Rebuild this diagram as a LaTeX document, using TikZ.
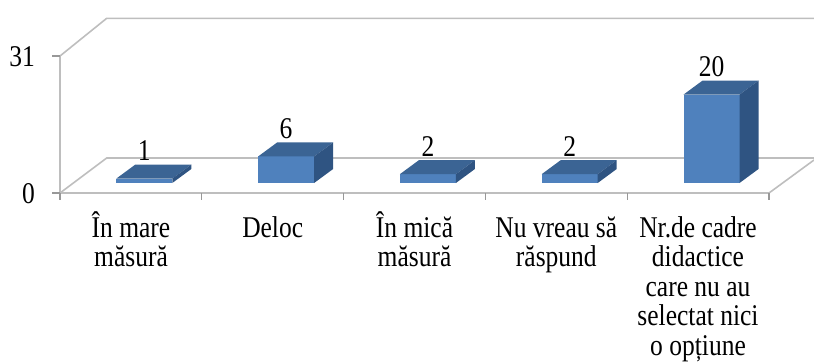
\documentclass[tikz,border=0pt]{standalone}
\usepackage{fontspec}
\usepackage{graphicx}
\setmainfont{Liberation Serif}
\definecolor{barfront}{HTML}{4F81BD}
\definecolor{bartop}{HTML}{3B6494}
\definecolor{barside}{HTML}{2F5482}
\definecolor{gridc}{HTML}{BEBEBE}
\tikzset{
  wall/.style={draw=gridc, line width=1.6bp, line cap=round},
  tickln/.style={draw=gridc!80!black, line width=1.2bp},
  axlabel/.style={anchor=base east, inner sep=0pt},
  vallabel/.style={anchor=base, inner sep=0pt},
  catlabel/.style={anchor=base, inner sep=0pt},
  frontface/.style={fill=barfront},
  topface/.style={fill=bartop},
  sideface/.style={fill=barside}
}
\newcommand\tall[1]{\scalebox{1}[1.18]{#1}}
\newcommand\catl[1]{\tall{\fontsize{25.5bp}{25bp}\selectfont\begin{tabular}[t]{@{}c@{}}#1\end{tabular}}}
\begin{document}
\begin{tikzpicture}[x=1bp,y=-1bp,font=\fontsize{25.5bp}{29.5bp}\selectfont]
\useasboundingbox (0,0) rectangle (814,361);
% walls
\coordinate (fl) at (60,193);
\coordinate (tl) at (60,56);
\coordinate (btl) at (106.7,18.3);
\coordinate (bbl) at (106.7,158);
\coordinate (btr) at (814,18.3);
\coordinate (bbr) at (814,158);
\coordinate (fr) at (769,193);
\coordinate (frb) at (814,160);
\draw[wall] (fl) -- (tl) -- (btl) -- (btr);
\draw[wall] (fl) -- (bbl) -- (bbr);
\draw[wall] (fl) -- (fr) -- (frb);
% ticks
\coordinate (t31) at (52,56);
\coordinate (t0) at (52,193);
\draw[tickln] (t31) -- (tl);
\draw[tickln] (t0) -- (fl);
\foreach \k in {0,...,5} {
  \coordinate (bt\k) at ({60+141.8*\k},193);
  \coordinate (bb\k) at ({60+141.8*\k},200);
  \draw[tickln] (bt\k) -- (bb\k);
}
\node[axlabel] (l31) at (35,66.5) {\tall{31}};
\node[axlabel] (l0) at (35,203) {\tall{0}};
% bars
\foreach \i/\v/\nm in {0/1/a,1/6/b,2/2/c,3/2/d,4/20/e} {
  \pgfmathsetmacro\xl{116.3+141.8*\i}
  \pgfmathsetmacro\xr{\xl+56}
  \pgfmathsetmacro\yt{183-4.42*\v}
  \pgfmathsetmacro\yb{\yt-14}
  \fill[frontface] (\xl,183) rectangle (\xr,\yt);
  \fill[topface] (\xl,\yt) -- ++(19,-14) -- ++(56,0) -- ++(-19,14) -- cycle;
  \fill[sideface] (\xr,183) -- (\xr,\yt) -- ++(19,-14) -- ++(0,{4.42*\v}) -- cycle;
  \node[vallabel] (v\nm) at ({\xl+28},{\yb-4}) {\tall{\v}};
}
% category labels
\node[catlabel] (c1) at (131,237) {\catl{În mare\\măsură}};
\node[catlabel] (c2) at (272.7,237) {\catl{Deloc}};
\node[catlabel] (c3) at (414.5,237) {\catl{În mică\\măsură}};
\node[catlabel] (c4) at (556.3,237) {\catl{Nu vreau să\\răspund}};
\node[catlabel] (c5) at (698,237) {\catl{Nr.de cadre\\didactice\\care nu au\\selectat nici\\o opțiune}};
\end{tikzpicture}
\end{document}
